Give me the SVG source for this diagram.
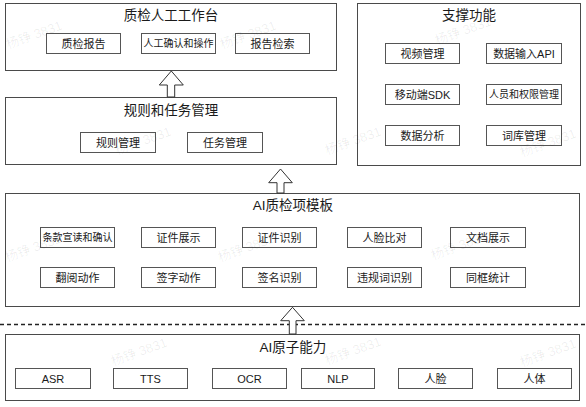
<svg xmlns="http://www.w3.org/2000/svg" width="586" height="407" viewBox="0 0 586 407">
<defs>
<style>
.bg{fill:#fff}
.box{fill:#fff;stroke:#4a4a4a;stroke-width:1}
.sub{fill:#fff;stroke:#555;stroke-width:1}
.title{font-family:"Liberation Sans","Noto Sans CJK SC",sans-serif;font-size:13.5px;fill:#1a1a1a;text-anchor:middle}
.lbl{font-family:"Liberation Sans","Noto Sans CJK SC",sans-serif;font-size:11px;fill:#1a1a1a;text-anchor:middle}
.sm{font-size:10px}
.arrow{fill:#fff;stroke:#333;stroke-width:1}
.dash{stroke:#222;stroke-width:1.6;stroke-dasharray:4 3;fill:none}
.wm{font-family:"Liberation Sans","Noto Sans CJK SC",sans-serif;font-size:13px;fill:#000;fill-opacity:0.07}
</style>
</defs>
<rect class="bg" x="0" y="0" width="586" height="407"/>

<g id="workbench">
<rect class="box" x="5.5" y="3.5" width="331" height="67"/>
<text class="title" x="171" y="20">质检人工工作台</text>
<rect class="sub" x="46.5" y="33.5" width="74" height="20"/>
<text class="lbl" x="83.5" y="47.5">质检报告</text>
<rect class="sub" x="141.5" y="33.5" width="74" height="20"/>
<text class="lbl sm" x="178.5" y="47">人工确认和操作</text>
<rect class="sub" x="235.5" y="33.5" width="74" height="20"/>
<text class="lbl" x="272.5" y="47.5">报告检索</text>
</g>

<g id="rules">
<rect class="box" x="5.5" y="97.5" width="331" height="67"/>
<text class="title" x="171" y="115">规则和任务管理</text>
<rect class="sub" x="80.5" y="132.5" width="75" height="20"/>
<text class="lbl" x="118" y="146.5">规则管理</text>
<rect class="sub" x="187.5" y="132.5" width="75" height="20"/>
<text class="lbl" x="225" y="146.5">任务管理</text>
</g>

<g id="support">
<rect class="box" x="357.5" y="3.5" width="223" height="162"/>
<text class="title" x="469" y="20">支撑功能</text>
<rect class="sub" x="385.5" y="43.5" width="74" height="20"/>
<text class="lbl" x="422.5" y="57.5">视频管理</text>
<rect class="sub" x="486.5" y="43.5" width="75" height="20"/>
<text class="lbl" x="524" y="57.5">数据输入API</text>
<rect class="sub" x="385.5" y="84.5" width="74" height="20"/>
<text class="lbl" x="422.5" y="98.5">移动端SDK</text>
<rect class="sub" x="486.5" y="84.5" width="75" height="20"/>
<text class="lbl sm" x="524" y="98">人员和权限管理</text>
<rect class="sub" x="385.5" y="125.5" width="74" height="20"/>
<text class="lbl" x="422.5" y="139.5">数据分析</text>
<rect class="sub" x="486.5" y="125.5" width="75" height="20"/>
<text class="lbl" x="524" y="139.5">词库管理</text>
</g>

<g id="template">
<rect class="box" x="5.5" y="193.5" width="574" height="113"/>
<text class="title" x="293" y="210">AI质检项模板</text>
<rect class="sub" x="40.5" y="227.5" width="74" height="20"/>
<text class="lbl sm" x="77.5" y="241">条款宣读和确认</text>
<rect class="sub" x="141.5" y="227.5" width="74" height="20"/>
<text class="lbl" x="178.5" y="241.5">证件展示</text>
<rect class="sub" x="242.5" y="227.5" width="74" height="20"/>
<text class="lbl" x="279.5" y="241.5">证件识别</text>
<rect class="sub" x="347.5" y="227.5" width="74" height="20"/>
<text class="lbl" x="384.5" y="241.5">人脸比对</text>
<rect class="sub" x="450.5" y="227.5" width="75" height="20"/>
<text class="lbl" x="488" y="241.5">文档展示</text>
<rect class="sub" x="40.5" y="267.5" width="74" height="20"/>
<text class="lbl" x="77.5" y="281.5">翻阅动作</text>
<rect class="sub" x="141.5" y="267.5" width="74" height="20"/>
<text class="lbl" x="178.5" y="281.5">签字动作</text>
<rect class="sub" x="242.5" y="267.5" width="74" height="20"/>
<text class="lbl" x="279.5" y="281.5">签名识别</text>
<rect class="sub" x="347.5" y="267.5" width="74" height="20"/>
<text class="lbl" x="384.5" y="281.5">违规词识别</text>
<rect class="sub" x="450.5" y="267.5" width="75" height="20"/>
<text class="lbl" x="488" y="281.5">同框统计</text>
</g>

<g id="atomic">
<rect class="box" x="5.5" y="334.5" width="574" height="66"/>
<text class="title" x="293" y="352">AI原子能力</text>
<rect class="sub" x="15.5" y="368.5" width="75" height="20"/>
<text class="lbl" x="53" y="382.5">ASR</text>
<rect class="sub" x="113.5" y="368.5" width="74" height="20"/>
<text class="lbl" x="150.5" y="382.5">TTS</text>
<rect class="sub" x="212.5" y="368.5" width="74" height="20"/>
<text class="lbl" x="249.5" y="382.5">OCR</text>
<rect class="sub" x="301.5" y="368.5" width="73" height="20"/>
<text class="lbl" x="338" y="382.5">NLP</text>
<rect class="sub" x="398.5" y="368.5" width="74" height="20"/>
<text class="lbl" x="435.5" y="382.5">人脸</text>
<rect class="sub" x="497.5" y="368.5" width="74" height="20"/>
<text class="lbl" x="534.5" y="382.5">人体</text>
</g>

<g id="connectors">
<line class="dash" x1="0" y1="324.5" x2="586" y2="324.5"/>
<polygon class="arrow" points="171.3,71 183.3,85 174.7,85 174.7,97 167.3,97 167.3,85 159.3,85"/>
<polygon class="arrow" points="280.5,169 292.3,182.7 284,182.7 284,193 277,193 277,182.7 268.7,182.7"/>
<polygon class="arrow" points="292.5,307.3 304.3,320.7 296,320.7 296,334 289.3,334 289.3,320.7 280.7,320.7"/>
</g>

<g id="watermarks">
<text class="wm" transform="translate(8,49) rotate(-20)">杨铮 3831</text>
<text class="wm" transform="translate(222,49) rotate(-20)">杨铮 3831</text>
<text class="wm" transform="translate(437,45) rotate(-20)">杨铮 3831</text>
<text class="wm" transform="translate(117,155) rotate(-20)">杨铮 3831</text>
<text class="wm" transform="translate(327,155) rotate(-20)">杨铮 3831</text>
<text class="wm" transform="translate(522,157) rotate(-20)">杨铮 3831</text>
<text class="wm" transform="translate(7,262) rotate(-20)">杨铮 3831</text>
<text class="wm" transform="translate(220,262) rotate(-20)">杨铮 3831</text>
<text class="wm" transform="translate(433,260) rotate(-20)">杨铮 3831</text>
<text class="wm" transform="translate(113,366) rotate(-20)">杨铮 3831</text>
<text class="wm" transform="translate(327,365) rotate(-20)">杨铮 3831</text>
<text class="wm" transform="translate(522,367) rotate(-20)">杨铮 3831</text>
</g>
</svg>
